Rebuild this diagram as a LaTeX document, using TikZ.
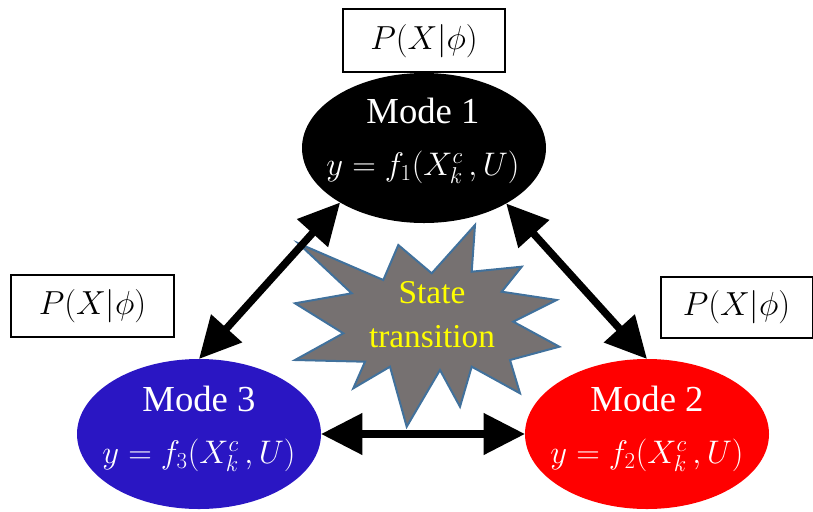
\documentclass[tikz,border=0pt]{standalone}
\usepackage{fix-cm}
\usepackage{fontspec}
\setmainfont{Liberation Serif}
\definecolor{modeBlue}{RGB}{42, 22, 195}
\definecolor{modeRed}{RGB}{255, 0, 0}
\definecolor{burstGray}{RGB}{118, 113, 113}
\definecolor{burstEdge}{RGB}{65, 113, 156}
\definecolor{burstText}{RGB}{255, 255, 0}
\usetikzlibrary{shapes.geometric, arrows.meta, positioning}

\newcommand{\modeeq}[1]{{\fontsize{24.5}{39}\selectfont$y=f_{#1}(X^{c}_{k}\,,U)$}}

\begin{document}
\begin{tikzpicture}[x=0.75pt, y=-0.75pt,
    modeshape/.style={ellipse, minimum width=183pt, minimum height=112.5pt, inner sep=0pt, outer sep=0pt},
    modetext/.style={text=white, align=center, font=\fontsize{27.5}{39}\selectfont},
    probbox/.style={draw, line width=1.5pt, minimum width=122pt, minimum height=47pt, inner sep=0pt, font=\fontsize{25}{28}\selectfont},
    burst/.style={fill=burstGray, draw=burstEdge, line width=1.5pt, line join=miter},
    bursttext/.style={text=burstText, align=center, font=\fontsize{25}{33}\selectfont},
    transarrow/.style={line width=5.6pt, {Triangle[length=31pt, width=30pt]}-{Triangle[length=31pt, width=30pt]}}]
                \useasboundingbox (0,0) rectangle (813,511);

                % the three modes
                \node[modeshape, fill=black] (m1) at (424,148) {};
                \node[modeshape, fill=modeRed] (m2) at (647,434) {};
                \node[modeshape, fill=modeBlue] (m3) at (199,434) {};
                \node[modetext] (t1) at (423,141) {Mode 1\\\modeeq{1}};
                \node[modetext] (t2) at (647,429) {Mode 2\\\modeeq{2}};
                \node[modetext] (t3) at (199,429) {Mode 3\\\modeeq{3}};

                % probability boxes
                \node[probbox, above=0pt of m1] (p1) {$P(X|\phi)$};
                \node[probbox, minimum width=114pt, minimum height=46pt] (p2) at (736.5,307.5) {$P(X|\phi)$};
                \node[probbox, minimum height=46.5pt] (p3) at (92.5,306) {$P(X|\phi)$};

                % state transition burst
                \draw[burst] (298.3,243.3) -- (383.3,280) -- (398.3,245) -- (431.7,273.3)
                    -- (475,225) -- (471.7,271.7) -- (521.7,266.7) -- (501.7,291.7)
                    -- (556.7,300) -- (513.3,321.7) -- (559.3,346.7) -- (510,360)
                    -- (520,393.3) -- (471.7,366.7) -- (460,406.7) -- (440,370)
                    -- (406.7,426.7) -- (390,366.7) -- (353.3,388.3) -- (365,361.7)
                    -- (295,360) -- (343.3,333.3) -- (295,303.3) -- (351.7,293.3) -- cycle;
                \node[bursttext] (st) at (432,315) {State\\transition};

                % transitions
                \draw[transarrow] (m1.213.5) -- (m3.north);
                \draw[transarrow] (m1.326.5) -- (m2.north);
                \draw[transarrow] (m3.east) -- (m2.west);
            \end{tikzpicture}
\end{document}
